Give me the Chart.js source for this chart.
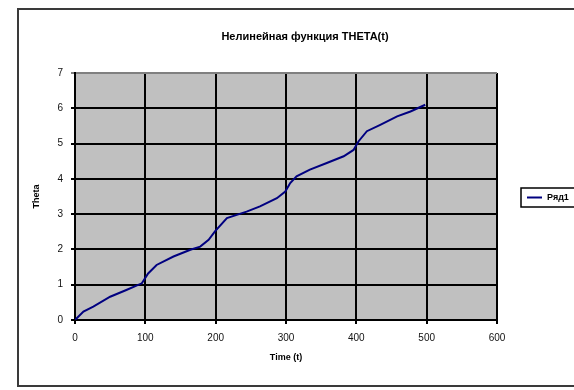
<!DOCTYPE html>
<html>
<head>
<meta charset="utf-8">
<script src="https://cdn.jsdelivr.net/npm/chart.js@4"></script>
<style>
  html, body { margin: 0; padding: 0; background: #fff; }
  #wrap { width: 574px; height: 390px; }
</style>
</head>
<body>
<div id="wrap"><canvas id="thetaChart" width="574" height="390"></canvas></div>
<script>
// значения
var timeValues = [0, 12, 26, 50, 73, 95, 104, 116, 140, 164, 178, 190, 199, 216, 244, 263, 287, 299, 306, 315, 334, 358, 382, 396, 403, 415, 434, 458, 477, 498];
var thetaValues = [0, 0.24, 0.38, 0.66, 0.85, 1.04, 1.32, 1.56, 1.80, 1.99, 2.08, 2.27, 2.51, 2.89, 3.07, 3.22, 3.45, 3.64, 3.88, 4.07, 4.26, 4.45, 4.64, 4.82, 5.06, 5.35, 5.53, 5.77, 5.91, 6.10];
var seriesName = 'Ряд1';
var chartTitle = 'Нелинейная функция THETA(t)';
var xTitle = 'Time (t)';
var yTitle = 'Theta';

var pontos = timeValues.map(function(t, i) {
    return { x: t, y: thetaValues[i] };
});

var fonte = 'Liberation Sans, Arial, sans-serif';

// fundo cinza da área do gráfico + moldura + título + legenda
var molduraPlugin = {
    id: 'moldura',
    beforeDraw: function(chart) {
        var ctx = chart.ctx;
        var a = chart.chartArea;
        ctx.save();
        ctx.fillStyle = '#fff';
        ctx.fillRect(0, 0, chart.width, chart.height);
        ctx.fillStyle = '#c0c0c0';
        ctx.fillRect(a.left, a.top, a.right - a.left, a.bottom - a.top);
        ctx.strokeStyle = '#3a3a3a';
        ctx.lineWidth = 2;
        ctx.strokeRect(18, 9, 600, 377);
        ctx.restore();
    },
    afterDraw: function(chart) {
        var ctx = chart.ctx;
        var ds = chart.data.datasets[0];
        ctx.save();
        // título centrado na moldura toda, como no Excel
        ctx.fillStyle = '#000';
        ctx.font = 'bold 11px ' + fonte;
        ctx.textAlign = 'center';
        ctx.textBaseline = 'middle';
        ctx.fillText(chartTitle, 305, 37);
        // legenda
        ctx.textAlign = 'left';
        ctx.strokeStyle = '#000';
        ctx.lineWidth = 1.5;
        ctx.strokeRect(521, 188, 70, 19);
        ctx.strokeStyle = ds.borderColor;
        ctx.lineWidth = 2;
        ctx.beginPath();
        ctx.moveTo(527, 197.5);
        ctx.lineTo(542, 197.5);
        ctx.stroke();
        ctx.font = 'bold 9px ' + fonte;
        ctx.fillText(ds.label, 547, 198);
        ctx.restore();
    }
};

new Chart(document.getElementById('thetaChart').getContext('2d'), {
    type: 'scatter',
    data: {
        datasets: [{
            label: seriesName,
            data: pontos,
            showLine: true,
            borderColor: '#000080',
            borderWidth: 2,
            pointRadius: 0,
            tension: 0,
            fill: false
        }]
    },
    options: {
        responsive: false,
        animation: false,
        layout: {
            padding: { left: 17, right: 77, top: 73, bottom: 6 }
        },
        plugins: {
            legend: { display: false },
            tooltip: { enabled: false },
            title: { display: false }
        },
        scales: {
            x: {
                type: 'linear',
                min: 0,
                max: 600,
                ticks: {
                    stepSize: 100,
                    color: '#111',
                    padding: 8,
                    font: { family: fonte, size: 10 }
                },
                grid: { color: '#000', lineWidth: 2, tickLength: 4 },
                border: { color: '#000', width: 2 },
                title: {
                    display: true,
                    text: xTitle,
                    color: '#000',
                    font: { family: fonte, size: 9, weight: 'bold' },
                    padding: { top: 4, bottom: 21 }
                },
                afterFit: function(scale) { scale.height = 64; }
            },
            y: {
                min: 0,
                max: 7,
                ticks: {
                    stepSize: 1,
                    color: '#111',
                    padding: 8,
                    font: { family: fonte, size: 10 }
                },
                grid: {
                    color: function(c) { return c.tick && c.tick.value === 7 ? '#808080' : '#000'; },
                    lineWidth: 2,
                    tickLength: 4
                },
                border: { color: '#000', width: 2 },
                title: {
                    display: true,
                    text: yTitle,
                    color: '#000',
                    font: { family: fonte, size: 9, weight: 'bold' },
                    padding: { top: 14, bottom: 4 }
                },
                afterFit: function(scale) { scale.width = 58; }
            }
        }
    },
    plugins: [molduraPlugin]
});
</script>
</body>
</html>
